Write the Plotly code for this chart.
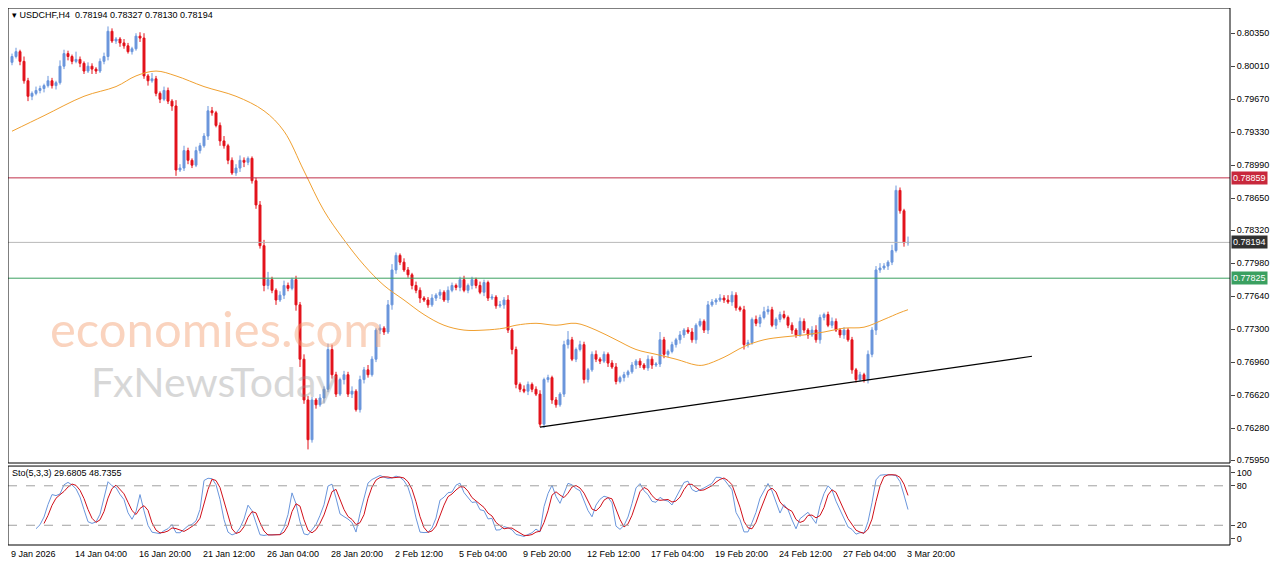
import plotly.graph_objects as go
import pandas as pd

closes = [.8011,.8016,.8006,.7986,.7970,.7973,.7976,.7978,.7981,.7986,.7981,.7984,.8001,.8014,.8011,
.8006,.8008,.8004,.7996,.8001,.7998,.7996,.8006,.8011,.8037,.8027,.8029,.8025,.8022,.8016,
.8019,.8032,.8030,.7991,.7986,.7988,.7973,.7967,.7976,.7965,.7960,.7894,.7896,.7914,.7904,
.7899,.7914,.7919,.7929,.7955,.7953,.7940,.7924,.7919,.7904,.7891,.7896,.7904,.7902,.7906,
.7883,.7858,.7816,.7775,.7781,.7770,.7760,.7765,.7775,.7772,.7781,.7755,.7699,.7657,.7616,
.7657,.7652,.7659,.7668,.7709,.7683,.7663,.7678,.7683,.7663,.7666,.7647,.7678,.7688,.7683,
.7699,.7729,.7731,.7727,.7755,.7791,.7806,.7799,.7791,.7786,.7775,.7770,.7762,.7760,.7755,
.7762,.7765,.7768,.7760,.7770,.7775,.7773,.7781,.7770,.7775,.7781,.7775,.7768,.7778,.7762,
.7763,.7754,.7755,.7760,.7729,.7709,.7673,.7668,.7666,.7673,.7668,.7663,.7632,.7678,.7680,
.7657,.7652,.7663,.7714,.7719,.7699,.7709,.7714,.7678,.7688,.7704,.7699,.7697,.7704,.7695,
.7691,.7676,.7680,.7683,.7686,.7693,.7697,.7693,.7690,.7699,.7693,.7694,.7719,.7704,.7707,
.7714,.7719,.7724,.7729,.7727,.7719,.7734,.7738,.7729,.7755,.7758,.7760,.7762,.7760,.7758,
.7765,.7752,.7750,.7714,.7716,.7740,.7736,.7742,.7748,.7750,.7734,.7740,.7745,.7742,.7734,
.7729,.7724,.7738,.7729,.7724,.7729,.7719,.7742,.7745,.7734,.7738,.7729,.7724,.7729,.7719,
.7688,.7678,.7683,.7678,.7704,.7729,.7791,.7793,.7795,.7799,.7811,.7873,.7852,.7819,.78194]
first_open = .8005
# wick sizes in pips (0.0001)
upper_wick = [3,4,2,5,3,2,4,3,2,5,3,2,6,4,3, 2,8,3,2,4,3,2,3,4,5,3,2,2,4,3,
 2,3,4,5,2,6,3,2,4,3,2,6,4,5,3, 2,4,3,3,5,4,2,3,5,2,3,4,5,3,2,
 2,3,4,6,8,3,2,4,5,3,2,4,3,5,4, 3,2,4,3,6,5,3,2,4,3,5,2,4,3,5,
 3,2,4,2,5,6,3,2,4,3,2,4,3,2,3, 4,2,3,2,4,3,2,3,4,2,3,2,4,3,2,
 3,2,4,3,5,2,3,2,4,3,2,3,4,2,3, 2,3,2,4,9,3,2,4,3,2,3,4,2,3,2,
 3,4,2,3,2,3,2,3,2,4,3,2,8,3,2, 3,2,4,2,3,4,2,3,2,4,3,2,4,3,5,
 4,3,2,4,3,2,4,3,5,4,3,2,3,4,2, 3,2,4,3,2,4,5,3,2,3,4,3,2,3,2,
 3,2,3,2,4,3,4,5,3,2,6,5,3,2,6]
lower_wick = [3,2,4,3,5,4,2,3,4,2,3,4,2,3,4, 3,2,4,3,2,5,3,2,3,4,2,3,4,3,2,
 3,2,4,3,5,2,3,4,2,3,5,6,2,3,4, 3,2,3,2,4,3,2,5,3,4,2,3,4,5,3,
 3,4,3,6,4,3,5,2,4,3,2,6,8,4,10, 3,4,2,5,3,4,3,2,5,3,4,2,3,4,3,
 2,3,4,3,2,5,4,3,2,3,4,3,5,2,3, 2,3,4,2,3,2,3,4,2,3,4,3,2,4,3,
 2,3,2,4,3,5,4,3,2,4,3,2,3,4,3, 4,3,2,3,4,2,3,2,4,3,2,3,3,2,4,
 2,3,2,4,3,2,4,3,2,3,4,2,3,4,3, 2,3,4,3,2,3,4,2,3,4,2,3,2,3,2,
 4,3,2,5,3,2,3,4,2,3,2,4,3,2,3, 4,3,2,3,4,2,3,4,3,2,3,2,3,4,2,
 4,3,2,3,4,3,5,3,2,4,3,2,3,4,3]

ma_idx = [0,8,18,26,31,36,41,48,56,63,68,73,78,83,88,93,98,103,108,113,118,123,126,131,136,141,
 146,151,156,161,166,171,173,178,183,188,193,198,203,208,213,218,222,224]
ma_val = [.7934,.7950,.7970,.7980,.7991,.7996,.7991,.7980,.7970,.7955,.7934,.7893,.7852,.7822,.7796,
 .7775,.7760,.7745,.7734,.7729,.7729,.7731,.7734,.7736,.7734,.7736,.7729,.7719,.7709,.7704,.7699,
 .7693,.7693,.7701,.7712,.7719,.7722,.7724,.7727,.7731,.7732,.7740,.7747,.7750]

x_labels = ["9 Jan 2026","14 Jan 04:00","16 Jan 20:00","21 Jan 12:00","26 Jan 04:00","28 Jan 20:00",
 "2 Feb 12:00","5 Feb 04:00","9 Feb 20:00","12 Feb 12:00","17 Feb 04:00","19 Feb 20:00",
 "24 Feb 12:00","27 Feb 04:00","3 Mar 20:00"]
price_ticks = [0.80350,0.80010,0.79670,0.79330,0.78990,0.78650,0.78320,0.77980,0.77640,
 0.77300,0.76960,0.76620,0.76280,0.75950]
levels = {"resist": 0.78859, "last": 0.78194, "support": 0.77825}
trend_idx = [132, 255]
trend_val = [0.7629, 0.7702]

n = len(closes)
opens = [first_open] + closes[:-1]
highs = [max(o, c) + u * 1e-4 for o, c, u in zip(opens, closes, upper_wick[:n])]
lows = [min(o, c) - l * 1e-4 for o, c, l in zip(opens, closes, lower_wick[:n])]
xi = list(range(n))

df = pd.DataFrame({"o": opens, "h": highs, "l": lows, "c": closes})
hh = df.h.rolling(5).max(); ll = df.l.rolling(5).min()
num = (df.c - ll).rolling(3).sum(); den = (hh - ll).rolling(3).sum()
k = 100 * num / den
d = k.rolling(3).mean()

UP, DN = "#6a96dc", "#e3121b"
fig = go.Figure()
fig.add_trace(go.Candlestick(x=xi, open=opens, high=highs, low=lows, close=closes,
    increasing=dict(line=dict(color=UP, width=1), fillcolor=UP),
    decreasing=dict(line=dict(color=DN, width=1), fillcolor=DN),
    whiskerwidth=0, xaxis="x", yaxis="y", showlegend=False, hoverinfo="skip"))
fig.add_trace(go.Scatter(x=ma_idx, y=ma_val, mode="lines", line=dict(color="#f0a030", width=1),
    xaxis="x", yaxis="y", showlegend=False, line_shape="spline"))
fig.add_trace(go.Scatter(x=trend_idx, y=trend_val, mode="lines", line=dict(color="black", width=1.2),
    xaxis="x", yaxis="y", showlegend=False))
fig.add_trace(go.Scatter(x=xi, y=k, mode="lines", line=dict(color="#6a96dc", width=1),
    xaxis="x", yaxis="y2", showlegend=False))
fig.add_trace(go.Scatter(x=xi, y=d, mode="lines", line=dict(color="#d0101a", width=1),
    xaxis="x", yaxis="y2", showlegend=False))

XR = [-1.0, 304.5]
MAIN_DOM = [0.1527, 1]
STO_DOM = [0, 0.147]
shapes = []
for key, col in [("resist", "#c0304a"), ("last", "#b8b8b8"), ("support", "#3aa060")]:
    shapes.append(dict(type="line", xref="paper", x0=0, x1=1, yref="y", y0=levels[key], y1=levels[key],
                       line=dict(color=col, width=1)))
for lv in [80, 20]:
    shapes.append(dict(type="line", xref="paper", x0=0, x1=1, yref="y2", y0=lv, y1=lv,
                       line=dict(color="#a0a0a0", width=1, dash="dash")))
for dom in [MAIN_DOM, STO_DOM]:
    shapes.append(dict(type="rect", xref="paper", yref="paper", x0=0, x1=1, y0=dom[0], y1=dom[1],
                       line=dict(color="black", width=1)))

ann = []
for key, col, fc in [("resist", "#c8283c", "white"), ("last", "#303030", "white"), ("support", "#3aa060", "white")]:
    ann.append(dict(xref="paper", x=1.001, xanchor="left", yref="y", y=levels[key], text=f"{levels[key]:.5f}",
                    showarrow=False, bgcolor=col, font=dict(color=fc, size=9, family="Liberation Sans"),
                    borderpad=1))
for i, lab in enumerate(x_labels):
    ann.append(dict(xref="x", x=16 * i - 0.8, xanchor="left", yref="paper", y=-0.004, yanchor="top",
                    text=lab, showarrow=False, font=dict(size=9, color="black", family="Liberation Sans")))
ann.append(dict(xref="paper", x=0.002, xanchor="left", yref="paper", y=1.0, yanchor="top",
                text="▾ USDCHF,H4  0.78194 0.78327 0.78130 0.78194", showarrow=False,
                font=dict(size=9, color="black", family="Liberation Sans")))
ann.append(dict(xref="paper", x=0.002, xanchor="left", yref="paper", y=STO_DOM[1], yanchor="top",
                text="Sto(5,3,3) 29.6805 48.7355", showarrow=False,
                font=dict(size=9, color="black", family="Liberation Sans")))
ann.append(dict(xref="paper", x=0.033, xanchor="left", yref="paper", y=0.405, yanchor="middle",
                text="economies.com", showarrow=False, opacity=0.45,
                font=dict(size=49, color="#f4a070", family="Lato")))
ann.append(dict(xref="paper", x=0.066, xanchor="left", yref="paper", y=0.305, yanchor="middle",
                text="FxNewsToday", showarrow=False, opacity=0.35,
                font=dict(size=41, color="#909090", family="Lato")))

fig.update_layout(
    width=1264, height=551, margin=dict(l=0, r=42, t=0, b=14, autoexpand=False),
    paper_bgcolor="white", plot_bgcolor="white",
    xaxis=dict(range=XR, showgrid=False, showticklabels=False, zeroline=False,
               rangeslider=dict(visible=False), ticks=""),
    yaxis=dict(domain=MAIN_DOM, range=[0.7592, 0.8061], side="right", tickvals=price_ticks,
               ticktext=[f"{v:.5f}" for v in price_ticks], showgrid=False, zeroline=False,
               ticks="outside", ticklen=4, automargin=False,
               tickfont=dict(size=9, family="Liberation Sans", color="black")),
    yaxis2=dict(domain=STO_DOM, range=[-10, 110], side="right", tickvals=[100, 80, 20, 0],
                showgrid=False, zeroline=False, ticks="outside", ticklen=4, automargin=False,
                tickfont=dict(size=9, family="Liberation Sans", color="black")),
    shapes=shapes, annotations=ann, hovermode=False,
)
fig.write_html("out.html")
